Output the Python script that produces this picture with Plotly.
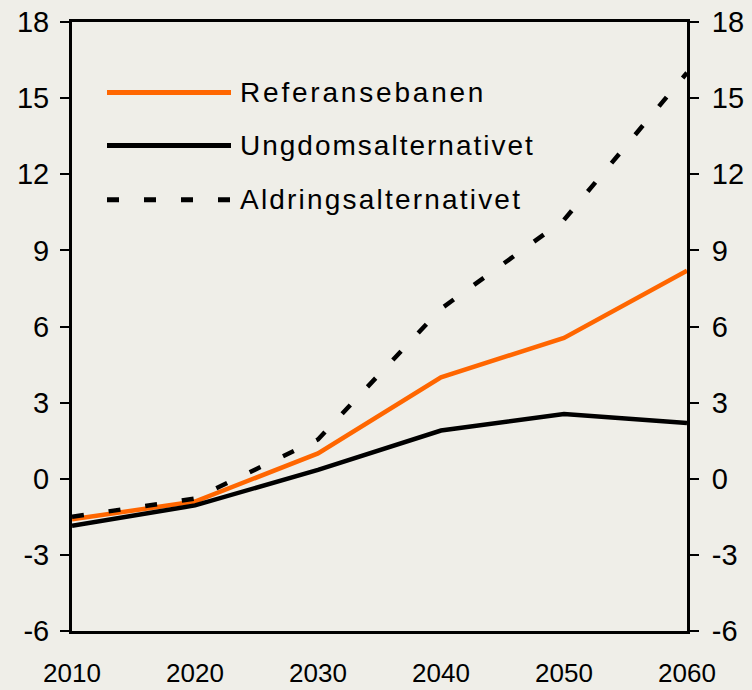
import plotly.graph_objects as go

years = [2010, 2020, 2030, 2040, 2050, 2060]
referansebanen = [-1.6, -0.9, 1.0, 4.0, 5.55, 8.2]
ungdomsalternativet = [-1.85, -1.05, 0.35, 1.9, 2.55, 2.2]
aldringsalternativet = [-1.5, -0.78, 1.55, 6.7, 10.2, 16.0]

series_names = ["Referansebanen", "Ungdomsalternativet", "Aldringsalternativet"]
y_ticks = [-6, -3, 0, 3, 6, 9, 12, 15, 18]
y_tick_labels = ["-6", "-3", "0", "3", "6", "9", "12", "15", "18"]
x_tick_labels = ["2010", "2020", "2030", "2040", "2050", "2060"]

BG = "#EFEEE8"
ORANGE = "#FF6600"
DASH = "12px,25px"

fig = go.Figure()
fig.add_trace(go.Scatter(x=years, y=referansebanen, name=series_names[0], mode="lines",
                         line=dict(color=ORANGE, width=4.5), showlegend=False))
fig.add_trace(go.Scatter(x=years, y=ungdomsalternativet, name=series_names[1], mode="lines",
                         line=dict(color="black", width=4.5), showlegend=False))
fig.add_trace(go.Scatter(x=years, y=aldringsalternativet, name=series_names[2], mode="lines",
                         line=dict(color="black", width=4.5, dash=DASH), showlegend=False))
# invisible trace to anchor the right-hand axis
fig.add_trace(go.Scatter(x=years, y=aldringsalternativet, yaxis="y2", mode="lines",
                         line=dict(width=0), opacity=0, hoverinfo="skip", showlegend=False))

# manual legend (long sample lines like the original)
def px_x(p):
    return (p - 72) / 615.0

def px_y(p):
    return (631 - p) / 608.5

legend_rows = [
    (series_names[0], 93, dict(color=ORANGE, width=5), 2.8),
    (series_names[1], 146, dict(color="black", width=5), 2.0),
    (series_names[2], 200, dict(color="black", width=5, dash=DASH), 2.2),
]
for name, ypx, ln, ls in legend_rows:
    fig.add_shape(type="line", xref="paper", yref="paper",
                  x0=px_x(107), x1=px_x(231), y0=px_y(ypx), y1=px_y(ypx), line=ln)
    fig.add_annotation(xref="paper", yref="paper", x=px_x(238), y=px_y(ypx),
                       xanchor="left", yanchor="middle", showarrow=False,
                       text=f'<span style="letter-spacing:{ls}px">{name}</span>',
                       font=dict(family="Liberation Sans, Arial, sans-serif", size=28, color="black"))

axis_font = dict(family="Liberation Sans, Arial, sans-serif", size=29, color="black")

fig.update_layout(
    width=752, height=690,
    margin=dict(l=72, r=65, t=22, b=59, autoexpand=False),
    paper_bgcolor=BG, plot_bgcolor=BG,
    showlegend=False,
    xaxis=dict(range=[2010, 2060], tickvals=years, ticktext=x_tick_labels, automargin=False,
               showgrid=False, zeroline=False, showline=True, linecolor="black", linewidth=3,
               mirror=True, ticks="outside", ticklen=17, tickcolor=BG,
               tickfont=dict(family="Liberation Sans, Arial, sans-serif", size=26, color="black")),
    yaxis=dict(range=[-6, 18], tickvals=y_ticks, ticktext=y_tick_labels, automargin=False,
               showgrid=False, zeroline=False, ticklabelstandoff=5,
               showline=True, linecolor="black", linewidth=3, ticks="outside", ticklen=9,
               tickwidth=2, tickcolor="black", tickfont=axis_font),
    yaxis2=dict(range=[-6, 18], tickvals=y_ticks, ticktext=y_tick_labels, automargin=False,
                overlaying="y", side="right", ticklabelstandoff=7,
                showgrid=False, zeroline=False, showline=True, linecolor="black", linewidth=3,
                ticks="outside", ticklen=9, tickwidth=2, tickcolor="black", tickfont=axis_font),
)

fig.write_html("out.html", config={"displayModeBar": False},
               post_script="document.body.style.margin='0';")
